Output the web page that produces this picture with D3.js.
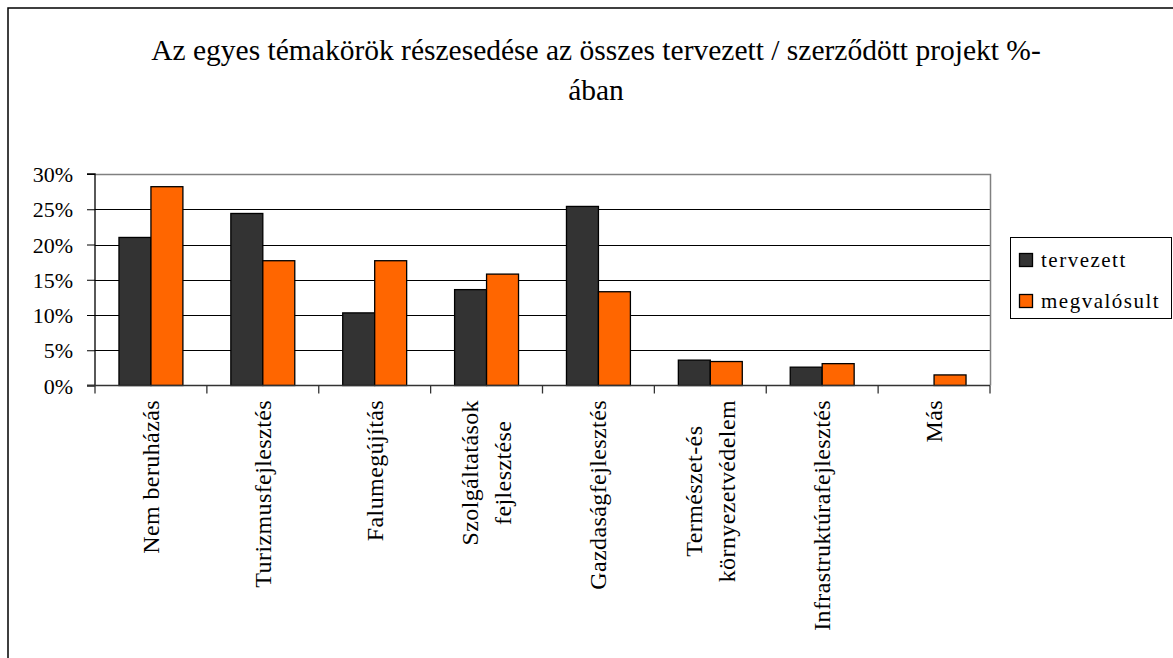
<!DOCTYPE html>
<html><head><meta charset="utf-8">
<script src="https://cdn.jsdelivr.net/npm/d3@7"></script>
<style>
html,body{margin:0;padding:0;background:#fff;}
svg text{font-family:"Liberation Serif","Times New Roman",serif;fill:#000;}
</style></head>
<body><svg id="c" width="1173" height="658"></svg>
<script>
const categories = [
  ["Nem beruházás"],
  ["Turizmusfejlesztés"],
  ["Falumegújítás"],
  ["Szolgáltatások","fejlesztése"],
  ["Gazdaságfejlesztés"],
  ["Természet-és","környezetvédelem"],
  ["Infrastruktúrafejlesztés"],
  ["Más"]
];
const seriesNames = ["tervezett","megvalósult"];
const tervezett   = [0.210, 0.244, 0.103, 0.136, 0.254, 0.036, 0.026, 0.000];
const megvalosult = [0.282, 0.177, 0.177, 0.158, 0.133, 0.034, 0.031, 0.015];
const yTicks = [0, 0.05, 0.10, 0.15, 0.20, 0.25, 0.30];
const colors = ["#333333","#FF6600"];
const titleLines = ["Az egyes témakörök részesedése az összes tervezett / szerződött projekt %-","ában"];

const svg = d3.select("#c");
// outer frame
svg.append("rect").attr("x",8).attr("y",8).attr("width",1200).attr("height",700)
  .attr("fill","none").attr("stroke","#000").attr("stroke-width",1.5);

const L=95, R=990, T=174, B=385.5;
const x0 = d3.scaleBand().domain(d3.range(categories.length)).range([L,R]).paddingInner(0).paddingOuter(0);
const x1 = d3.scaleBand().domain([0,1]).range([0,x0.bandwidth()]).paddingInner(0).paddingOuter(0.75);
const y = d3.scaleLinear().domain([0,0.30]).range([B,T]);

// title
svg.append("text").attr("x",596).attr("y",60).attr("text-anchor","middle").attr("font-size",29.5).text(titleLines[0]);
svg.append("text").attr("x",596).attr("y",100).attr("text-anchor","middle").attr("font-size",29.5).text(titleLines[1]);

// gridlines
svg.append("g").selectAll("line").data(yTicks.filter(d=>d>0 && d<0.30)).join("line")
  .attr("x1",L).attr("x2",R).attr("y1",d=>Math.round(y(d))+0.5).attr("y2",d=>Math.round(y(d))+0.5)
  .attr("stroke","#000").attr("stroke-width",1);
// plot border top/right
svg.append("path").attr("d",`M${L},${T+0.5}H${R+0.5}V${B}`).attr("fill","none").attr("stroke","#808080").attr("stroke-width",1.5);

// bars
const series = [tervezett, megvalosult];
series.forEach((vals,si)=>{
  svg.append("g").selectAll("rect").data(vals).join("rect")
    .attr("x",(d,i)=>x0(i)+x1(si))
    .attr("y",d=>y(d))
    .attr("width",x1.bandwidth())
    .attr("height",d=>B-y(d))
    .attr("fill",colors[si]).attr("stroke",d=>d>0?"#000":"none").attr("stroke-width",1.3);
});

// y axis
const yAxis = d3.axisLeft(y).tickValues(yTicks).tickFormat(d3.format(".0%")).tickSize(8).tickPadding(14);
const gy = svg.append("g").attr("transform",`translate(${L},0)`).call(yAxis);
gy.select(".domain").attr("stroke","#000").attr("stroke-width",1.3).attr("d",`M-8,${T}H0V${B}H-8`);
gy.selectAll(".tick line").attr("stroke","#000");
gy.selectAll("text").attr("font-size",22).attr("font-family","Liberation Serif").attr("dy","0.35em");

// x axis line and ticks at boundaries
const xb = d3.scaleLinear().domain([0,categories.length]).range([L,R]);
const gx = svg.append("g");
gx.append("line").attr("x1",L-8).attr("x2",R).attr("y1",B).attr("y2",B).attr("stroke","#333").attr("stroke-width",1.3);
gx.selectAll("line.t").data(d3.range(categories.length+1)).join("line").attr("class","t")
  .attr("x1",d=>xb(d)).attr("x2",d=>xb(d)).attr("y1",B).attr("y2",B+8).attr("stroke","#333").attr("stroke-width",1.3);

// category labels (rotated)
const labTop = 400, lineGap = 33;
categories.forEach((lines,i)=>{
  const cx = x0(i)+x0.bandwidth()/2;
  const n = lines.length;
  const g = svg.append("g");
  const texts = lines.map((s,j)=>g.append("text").attr("font-size",24).attr("letter-spacing","0.4px").text(s));
  const maxLen = d3.max(texts, t=>t.node().getComputedTextLength());
  texts.forEach((t,j)=>{
    const lx = cx + (j-(n-1)/2)*lineGap + 8;
    const ly = labTop + maxLen/2;
    t.attr("text-anchor","middle").attr("transform",`translate(${lx},${ly}) rotate(-90)`);
  });
});

// legend
const lg = svg.append("g");
lg.append("rect").attr("x",1010.5).attr("y",237.5).attr("width",161).attr("height",81)
  .attr("fill","#fff").attr("stroke","#000").attr("stroke-width",1);
seriesNames.forEach((s,i)=>{
  const yy = 253 + i*41;
  lg.append("rect").attr("x",1019.5).attr("y",yy+0.5).attr("width",13).attr("height",13)
    .attr("fill",colors[i]).attr("stroke","#000").attr("stroke-width",1.3);
  lg.append("text").attr("x",1041).attr("y",yy+14).attr("font-size",21).attr("letter-spacing","1.5px").text(s);
});
</script></body></html>
